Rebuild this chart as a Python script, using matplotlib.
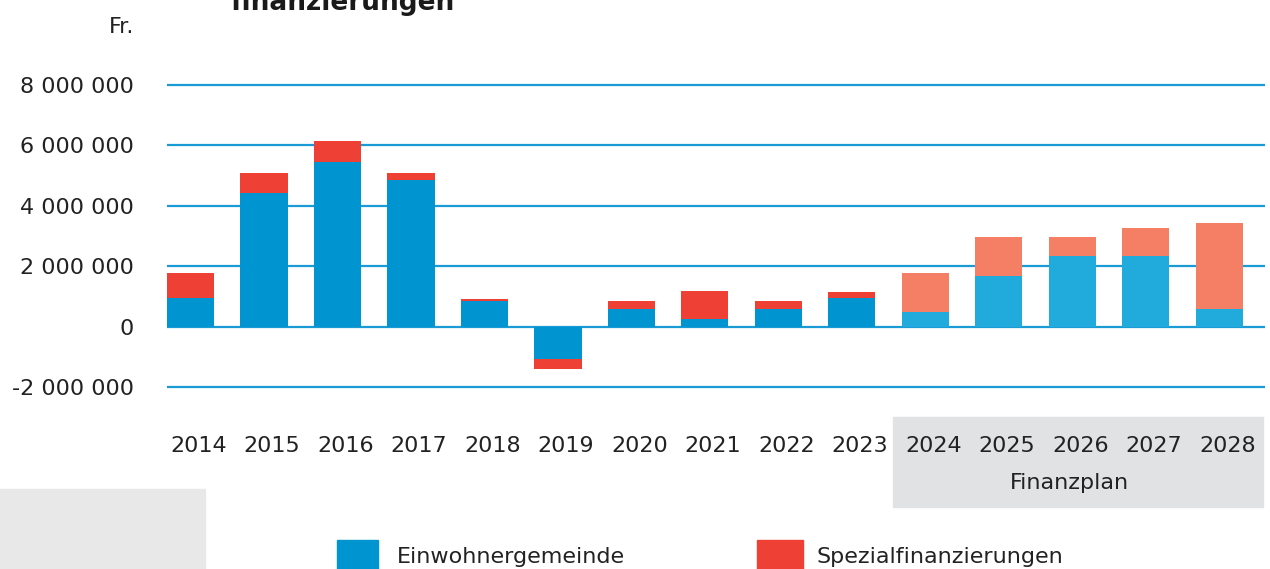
import matplotlib
matplotlib.use("Agg")
import matplotlib.pyplot as plt
import matplotlib.transforms as mtransforms
from matplotlib.patches import Rectangle


YEARS = [str(y) for y in range(2014, 2029)]
EINWOHNER = [0.95, 4.43, 5.44, 4.85, 0.84, -1.08, 0.58, 0.25, 0.58, 0.95,
             0.49, 1.67, 2.33, 2.33, 0.58]
SPEZIAL = [0.84, 0.65, 0.69, 0.23, 0.06, -0.31, 0.26, 0.92, 0.26, 0.18,
           1.30, 1.31, 0.65, 0.94, 2.86]
FORECAST_FROM = "2024"
Y_TICKS = [-2_000_000, 0, 2_000_000, 4_000_000, 6_000_000, 8_000_000]

BLUE = "#0095d1"
RED = "#ef4036"
BLUE_PLAN = "#20abdc"
RED_PLAN = "#f47f65"
GRID = "#1a9bd5"
TEXT = "#222222"

W, H = 1270, 569


def fx(px):
    return px / W


def fy(py):
    return 1 - py / H


def main():
    plt.rcParams["font.family"] = ["DejaVu Sans"]
    fig = plt.figure(figsize=(W / 100, H / 100), dpi=100)

    # grey boxes behind the axis labels
    fig.add_artist(Rectangle((fx(893), fy(507)), fx(1263 - 893), (507 - 417) / H,
                             transform=fig.transFigure, color="#e1e2e4", zorder=0))
    fig.add_artist(Rectangle((fx(0), fy(569)), fx(205), (569 - 489) / H,
                             transform=fig.transFigure, color="#e8e8e8", zorder=0))

    ax = fig.add_axes([fx(167), fy(393), fx(1265 - 167), (393 - 79) / H])
    ax.patch.set_alpha(0)

    x = list(range(len(YEARS)))
    blue_vals = [v * 1e6 for v in EINWOHNER]
    red_vals = [v * 1e6 for v in SPEZIAL]
    start = YEARS.index(FORECAST_FROM)
    blue_cols = [BLUE if i < start else BLUE_PLAN for i in x]
    red_cols = [RED if i < start else RED_PLAN for i in x]

    ax.bar(x, blue_vals, width=0.64, color=blue_cols, zorder=3)
    ax.bar(x, red_vals, width=0.64, bottom=blue_vals, color=red_cols, zorder=3)

    ax.set_xlim(-0.32, 14.62)
    ax.set_ylim(-2.2e6, 8.2e6)
    ax.set_yticks(Y_TICKS)
    ax.set_yticklabels([f"{v:,.0f}".replace(",", " ") for v in Y_TICKS])
    ax.set_xticks(x)
    ax.set_xticklabels(YEARS)
    ax.tick_params(axis="y", length=0, pad=24, labelsize=16, labelcolor=TEXT)
    ax.tick_params(axis="x", length=0, pad=31, labelsize=16, labelcolor=TEXT)
    # year labels sit a little right of the bar centres
    shift = mtransforms.ScaledTranslation(8 / 100, 0, fig.dpi_scale_trans)
    for label in ax.get_xticklabels():
        label.set_transform(label.get_transform() + shift)
    ax.grid(axis="y", color=GRID, linewidth=1.6, zorder=1)
    ax.set_axisbelow(True)
    for spine in ax.spines.values():
        spine.set_visible(False)

    fig.text(fx(1069), fy(483), "Finanzplan", ha="center", va="center",
             fontsize=16, color=TEXT)
    fig.text(fx(134), fy(27), "Fr.", ha="right", va="center", fontsize=16, color=TEXT)
    fig.text(fx(230), fy(10), "finanzierungen", ha="left", va="baseline",
             fontsize=19, fontweight="bold", color="#1a1a1a")

    # legend
    fig.add_artist(Rectangle((fx(337), fy(575)), fx(41), 35 / H,
                             transform=fig.transFigure, color=BLUE))
    fig.text(fx(397), fy(557), "Einwohnergemeinde", ha="left", va="center",
             fontsize=16, color=TEXT)
    fig.add_artist(Rectangle((fx(757), fy(575)), fx(46), 35 / H,
                             transform=fig.transFigure, color=RED))
    fig.text(fx(817), fy(557), "Spezialfinanzierungen", ha="left", va="center",
             fontsize=16, color=TEXT)

    fig.savefig("out.png", dpi=100)
    plt.close(fig)


if __name__ == "__main__":
    main()
